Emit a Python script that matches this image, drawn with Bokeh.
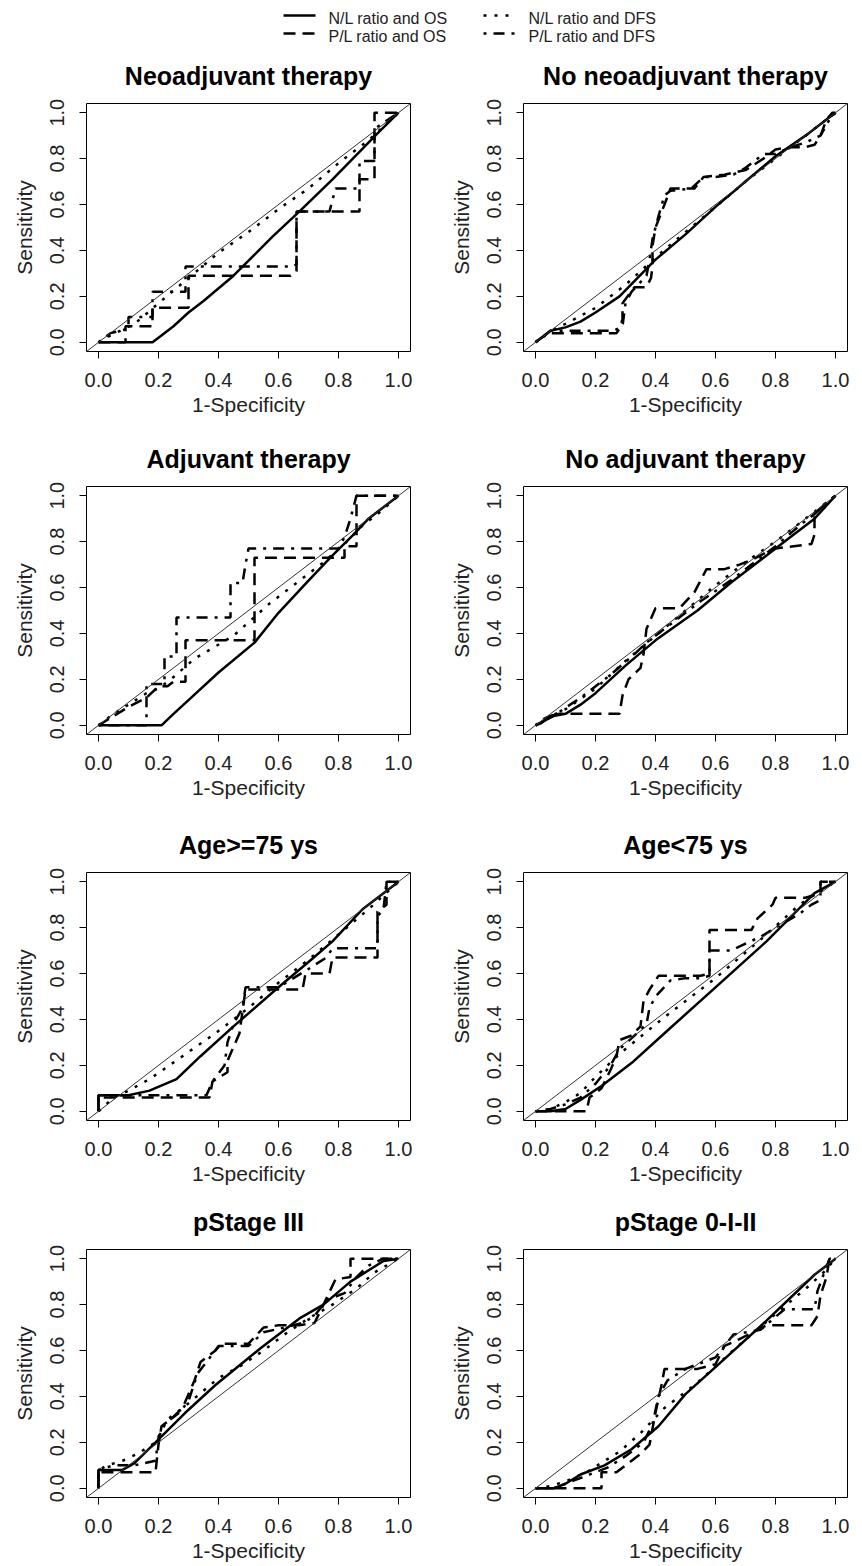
from bokeh.plotting import figure
from bokeh.models import Range1d, FixedTicker, PrintfTickFormatter, Slope
from bokeh.layouts import column, row
from bokeh.embed import file_html
from bokeh.resources import INLINE
from bokeh.core.properties import value

# ---------------- data ----------------
TICKS = [0.0, 0.2, 0.4, 0.6, 0.8, 1.0]
SERIES = ["N/L ratio and OS", "P/L ratio and OS", "N/L ratio and DFS", "P/L ratio and DFS"]
TITLES = ["Neoadjuvant therapy", "No neoadjuvant therapy", "Adjuvant therapy", "No adjuvant therapy",
          "Age>=75 ys", "Age<75 ys", "pStage III", "pStage 0-I-II"]
X_LABEL = "1-Specificity"
Y_LABEL = "Sensitivity"

neo_nlos_x = [0, 0.18, 0.20, 0.25, 0.30, 0.35, 0.45, 0.58, 0.67, 0.78, 0.90, 0.93, 1.0]
neo_nlos_y = [0, 0, 0.02, 0.07, 0.13, 0.18, 0.29, 0.46, 0.57, 0.71, 0.87, 0.91, 1.0]
neo_plos_x = [0, 0.09, 0.09, 0.18, 0.18, 0.30, 0.30, 0.64, 0.66, 0.66, 0.87, 0.87, 0.92, 0.92, 1.0]
neo_plos_y = [0, 0, 0.07, 0.07, 0.15, 0.15, 0.29, 0.29, 0.31, 0.57, 0.57, 0.71, 0.71, 1.0, 1.0]
neo_nldfs_x = [0, 0.04, 0.12, 0.20, 0.30, 0.40, 0.50, 0.60, 0.70, 0.80, 0.90, 1.0]
neo_nldfs_y = [0, 0.03, 0.08, 0.17, 0.28, 0.39, 0.48, 0.58, 0.67, 0.78, 0.88, 1.0]
neo_pldfs_x = [0, 0.04, 0.10, 0.10, 0.18, 0.18, 0.29, 0.29, 0.65, 0.66, 0.66, 0.77, 0.79, 0.87, 0.87, 0.92, 0.92, 1.0]
neo_pldfs_y = [0, 0.04, 0.06, 0.11, 0.11, 0.22, 0.22, 0.33, 0.33, 0.34, 0.57, 0.57, 0.67, 0.67, 0.79, 0.79, 0.93, 1.0]

noneo_nlos_x = [0, 0.03, 0.05, 0.10, 0.15, 0.20, 0.28, 0.40, 0.50, 0.60, 0.70, 0.80, 0.90, 0.97, 1.0]
noneo_nlos_y = [0, 0.03, 0.05, 0.065, 0.09, 0.13, 0.20, 0.36, 0.47, 0.59, 0.70, 0.81, 0.90, 0.97, 1.0]
noneo_plos_x = [0, 0.02, 0.05, 0.08, 0.27, 0.28, 0.29, 0.29, 0.33, 0.37, 0.385, 0.39, 0.39, 0.40, 0.43, 0.45,
                0.53, 0.56, 0.63, 0.70, 0.76, 0.80, 0.85, 0.90, 0.93, 0.95, 0.97, 0.99, 1.0]
noneo_plos_y = [0, 0.02, 0.04, 0.04, 0.04, 0.06, 0.10, 0.17, 0.24, 0.24, 0.28, 0.33, 0.42, 0.50, 0.60, 0.67,
                0.67, 0.72, 0.73, 0.75, 0.80, 0.84, 0.85, 0.85, 0.86, 0.90, 0.97, 1.0, 1.0]
noneo_nldfs_x = [0, 0.05, 0.10, 0.20, 0.30, 0.40, 0.50, 0.60, 0.70, 0.80, 0.90, 1.0]
noneo_nldfs_y = [0, 0.05, 0.08, 0.15, 0.25, 0.37, 0.48, 0.59, 0.70, 0.80, 0.90, 1.0]
noneo_pldfs_x = [0, 0.03, 0.05, 0.08, 0.26, 0.29, 0.30, 0.32, 0.37, 0.38, 0.39, 0.41, 0.43, 0.45, 0.52, 0.56,
                 0.60, 0.66, 0.70, 0.76, 0.80, 0.85, 0.90, 0.95, 0.98, 1.0]
noneo_pldfs_y = [0, 0.03, 0.05, 0.05, 0.05, 0.07, 0.17, 0.22, 0.29, 0.36, 0.45, 0.55, 0.64, 0.66, 0.67, 0.72,
                 0.72, 0.73, 0.76, 0.82, 0.82, 0.85, 0.87, 0.90, 0.97, 1.0]

adj_nlos_x = [0, 0.21, 0.25, 0.30, 0.40, 0.52, 0.60, 0.70, 0.78, 0.85, 0.90, 1.0]
adj_nlos_y = [0, 0, 0.05, 0.11, 0.23, 0.36, 0.49, 0.63, 0.74, 0.83, 0.90, 1.0]
adj_plos_x = [0, 0.05, 0.10, 0.16, 0.20, 0.23, 0.25, 0.27, 0.29, 0.29, 0.52, 0.52, 0.82, 0.82, 0.86, 0.86, 1.0]
adj_plos_y = [0, 0.04, 0.08, 0.12, 0.17, 0.17, 0.19, 0.19, 0.19, 0.37, 0.37, 0.73, 0.73, 0.78, 0.78, 1.0, 1.0]
adj_nldfs_x = [0, 0.05, 0.10, 0.16, 0.20, 0.25, 0.32, 0.45, 0.57, 0.67, 0.75, 0.82, 0.88, 0.93, 1.0]
adj_nldfs_y = [0, 0.05, 0.09, 0.14, 0.16, 0.21, 0.29, 0.39, 0.53, 0.63, 0.71, 0.79, 0.87, 0.92, 1.0]
adj_pldfs_x = [0, 0.16, 0.16, 0.22, 0.22, 0.26, 0.26, 0.44, 0.44, 0.48, 0.49, 0.50, 0.80, 0.82, 0.84, 0.86, 1.0]
adj_pldfs_y = [0, 0, 0.18, 0.18, 0.30, 0.30, 0.47, 0.47, 0.62, 0.62, 0.70, 0.77, 0.77, 0.82, 0.90, 1.0, 1.0]

noadj_nlos_x = [0, 0.03, 0.06, 0.10, 0.15, 0.20, 0.30, 0.40, 0.54, 0.65, 0.77, 0.85, 0.93, 1.0]
noadj_nlos_y = [0, 0.02, 0.04, 0.05, 0.09, 0.14, 0.26, 0.37, 0.50, 0.62, 0.74, 0.82, 0.90, 1.0]
noadj_plos_x = [0, 0.02, 0.05, 0.08, 0.28, 0.29, 0.31, 0.35, 0.36, 0.37, 0.40, 0.48, 0.53, 0.57, 0.63, 0.68,
                0.72, 0.78, 0.80, 0.92, 0.93, 0.93, 0.97, 1.0]
noadj_plos_y = [0, 0.01, 0.04, 0.05, 0.05, 0.13, 0.20, 0.25, 0.31, 0.42, 0.51, 0.51, 0.58, 0.68, 0.68, 0.70,
                0.72, 0.76, 0.77, 0.79, 0.83, 0.92, 0.97, 1.0]
noadj_nldfs_x = [0, 0.05, 0.10, 0.20, 0.30, 0.40, 0.50, 0.60, 0.70, 0.80, 0.90, 1.0]
noadj_nldfs_y = [0, 0.04, 0.07, 0.16, 0.28, 0.39, 0.50, 0.61, 0.71, 0.80, 0.90, 1.0]
noadj_pldfs_x = [0, 0.03, 0.07, 0.15, 0.25, 0.33, 0.37, 0.45, 0.55, 0.65, 0.72, 0.80, 0.88, 0.93, 0.97, 1.0]
noadj_pldfs_y = [0, 0.03, 0.05, 0.12, 0.22, 0.31, 0.36, 0.44, 0.54, 0.63, 0.70, 0.78, 0.87, 0.92, 0.97, 1.0]

old_nlos_x = [0, 0, 0.06, 0.10, 0.17, 0.26, 0.34, 0.45, 0.60, 0.70, 0.78, 0.88, 0.95, 1.0]
old_nlos_y = [0, 0.07, 0.07, 0.07, 0.09, 0.14, 0.24, 0.37, 0.54, 0.65, 0.74, 0.88, 0.95, 1.0]
old_plos_x = [0, 0, 0.09, 0.37, 0.38, 0.43, 0.43, 0.47, 0.49, 0.52, 0.68, 0.69, 0.77, 0.78, 0.93, 0.93, 0.96, 0.96, 1.0]
old_plos_y = [0, 0.06, 0.06, 0.06, 0.13, 0.17, 0.22, 0.34, 0.53, 0.53, 0.53, 0.60, 0.60, 0.67, 0.67, 0.87, 0.90, 1.0, 1.0]
old_nldfs_x = [0, 0.05, 0.10, 0.17, 0.28, 0.39, 0.50, 0.60, 0.70, 0.80, 0.90, 1.0]
old_nldfs_y = [0, 0.06, 0.09, 0.14, 0.24, 0.34, 0.45, 0.56, 0.66, 0.77, 0.88, 1.0]
old_pldfs_x = [0, 0, 0.06, 0.36, 0.38, 0.42, 0.43, 0.45, 0.48, 0.49, 0.60, 0.65, 0.70, 0.76, 0.78, 0.93, 0.93,
               0.95, 0.96, 1.0]
old_pldfs_y = [0, 0.07, 0.07, 0.07, 0.13, 0.20, 0.30, 0.38, 0.45, 0.54, 0.54, 0.58, 0.62, 0.67, 0.71, 0.71, 0.85,
               0.88, 1.0, 1.0]

young_nlos_x = [0, 0.05, 0.10, 0.15, 0.22, 0.32, 0.43, 0.60, 0.77, 0.93, 1.0]
young_nlos_y = [0, 0, 0.01, 0.05, 0.11, 0.21, 0.34, 0.54, 0.74, 0.95, 1.0]
young_plos_x = [0, 0.05, 0.10, 0.13, 0.17, 0.18, 0.22, 0.25, 0.27, 0.28, 0.32, 0.35, 0.36, 0.38, 0.41, 0.45,
                0.50, 0.55, 0.58, 0.58, 0.72, 0.74, 0.79, 0.80, 0.85, 0.90, 0.95, 0.95, 1.0]
young_plos_y = [0, 0, 0, 0, 0, 0.06, 0.10, 0.18, 0.24, 0.31, 0.33, 0.37, 0.48, 0.53, 0.59, 0.59,
                0.59, 0.59, 0.60, 0.79, 0.79, 0.84, 0.90, 0.93, 0.93, 0.93, 0.95, 1.0, 1.0]
young_nldfs_x = [0, 0.05, 0.10, 0.15, 0.20, 0.28, 0.43, 0.60, 0.77, 0.88, 0.95, 1.0]
young_nldfs_y = [0, 0.01, 0.04, 0.08, 0.15, 0.25, 0.41, 0.58, 0.77, 0.90, 0.96, 1.0]
young_pldfs_x = [0, 0.05, 0.10, 0.15, 0.20, 0.25, 0.28, 0.33, 0.37, 0.38, 0.40, 0.45, 0.50, 0.55, 0.58, 0.58,
                 0.65, 0.70, 0.75, 0.80, 0.88, 0.92, 0.95, 0.95, 1.0]
young_pldfs_y = [0, 0.01, 0.03, 0.06, 0.12, 0.20, 0.27, 0.33, 0.38, 0.45, 0.50, 0.57, 0.58, 0.58, 0.59, 0.70,
                 0.70, 0.73, 0.76, 0.80, 0.86, 0.90, 0.92, 1.0, 1.0]

s3_nlos_x = [0, 0, 0.04, 0.08, 0.12, 0.19, 0.29, 0.39, 0.54, 0.67, 0.75, 0.84, 0.95, 1.0]
s3_nlos_y = [0, 0.08, 0.08, 0.08, 0.11, 0.20, 0.33, 0.45, 0.61, 0.74, 0.80, 0.90, 0.99, 1.0]
s3_plos_x = [0, 0, 0.05, 0.10, 0.19, 0.20, 0.21, 0.24, 0.28, 0.32, 0.34, 0.39, 0.41, 0.47, 0.50, 0.55,
             0.60, 0.67, 0.72, 0.75, 0.79, 0.84, 0.84, 1.0]
s3_plos_y = [0, 0.07, 0.07, 0.07, 0.07, 0.19, 0.27, 0.30, 0.35, 0.47, 0.55, 0.60, 0.63, 0.63, 0.63, 0.70,
             0.71, 0.71, 0.72, 0.80, 0.91, 0.92, 1.0, 1.0]
s3_nldfs_x = [0, 0, 0.03, 0.08, 0.13, 0.19, 0.23, 0.30, 0.40, 0.47, 0.55, 0.62, 0.70, 0.78, 0.86, 0.92, 1.0]
s3_nldfs_y = [0, 0.08, 0.10, 0.12, 0.15, 0.20, 0.30, 0.37, 0.48, 0.53, 0.60, 0.67, 0.74, 0.80, 0.87, 0.94, 1.0]
s3_pldfs_x = [0, 0, 0.05, 0.12, 0.19, 0.20, 0.22, 0.27, 0.30, 0.33, 0.36, 0.40, 0.45, 0.50, 0.55, 0.62,
              0.68, 0.72, 0.76, 0.82, 0.86, 0.90, 0.95, 1.0]
s3_pldfs_y = [0, 0.08, 0.10, 0.10, 0.12, 0.22, 0.28, 0.33, 0.38, 0.50, 0.55, 0.62, 0.62, 0.62, 0.68, 0.70,
              0.72, 0.75, 0.82, 0.85, 0.92, 0.97, 1.0, 1.0]

s012_nlos_x = [0, 0.06, 0.10, 0.15, 0.23, 0.32, 0.41, 0.50, 0.61, 0.77, 0.93, 1.0]
s012_nlos_y = [0, 0, 0.02, 0.06, 0.10, 0.17, 0.27, 0.41, 0.54, 0.73, 0.93, 1.0]
s012_plos_x = [0, 0.05, 0.22, 0.22, 0.27, 0.30, 0.35, 0.38, 0.40, 0.42, 0.43, 0.54, 0.60, 0.63, 0.68, 0.77,
               0.83, 0.92, 0.94, 0.95, 0.97, 0.98, 1.0]
s012_plos_y = [0, 0, 0, 0.07, 0.07, 0.10, 0.15, 0.19, 0.33, 0.45, 0.52, 0.52, 0.54, 0.62, 0.65, 0.71,
               0.71, 0.71, 0.75, 0.84, 0.92, 1.0, 1.0]
s012_nldfs_x = [0, 0.05, 0.10, 0.17, 0.28, 0.35, 0.43, 0.54, 0.65, 0.72, 0.81, 0.91, 0.96, 1.0]
s012_nldfs_y = [0, 0.01, 0.03, 0.07, 0.16, 0.24, 0.35, 0.46, 0.59, 0.67, 0.77, 0.88, 0.94, 1.0]
s012_pldfs_x = [0, 0.06, 0.10, 0.16, 0.24, 0.30, 0.36, 0.39, 0.41, 0.44, 0.50, 0.56, 0.60, 0.63, 0.66, 0.75,
                0.83, 0.85, 0.93, 0.94, 0.96, 0.98, 1.0]
s012_pldfs_y = [0, 0, 0.02, 0.05, 0.09, 0.14, 0.20, 0.28, 0.40, 0.47, 0.52, 0.55, 0.57, 0.62, 0.67, 0.69,
                0.78, 0.78, 0.78, 0.86, 0.93, 1.0, 1.0]

PANEL_CURVES = [
    [(neo_nlos_x, neo_nlos_y), (neo_plos_x, neo_plos_y), (neo_nldfs_x, neo_nldfs_y), (neo_pldfs_x, neo_pldfs_y)],
    [(noneo_nlos_x, noneo_nlos_y), (noneo_plos_x, noneo_plos_y), (noneo_nldfs_x, noneo_nldfs_y), (noneo_pldfs_x, noneo_pldfs_y)],
    [(adj_nlos_x, adj_nlos_y), (adj_plos_x, adj_plos_y), (adj_nldfs_x, adj_nldfs_y), (adj_pldfs_x, adj_pldfs_y)],
    [(noadj_nlos_x, noadj_nlos_y), (noadj_plos_x, noadj_plos_y), (noadj_nldfs_x, noadj_nldfs_y), (noadj_pldfs_x, noadj_pldfs_y)],
    [(old_nlos_x, old_nlos_y), (old_plos_x, old_plos_y), (old_nldfs_x, old_nldfs_y), (old_pldfs_x, old_pldfs_y)],
    [(young_nlos_x, young_nlos_y), (young_plos_x, young_plos_y), (young_nldfs_x, young_nldfs_y), (young_pldfs_x, young_pldfs_y)],
    [(s3_nlos_x, s3_nlos_y), (s3_plos_x, s3_plos_y), (s3_nldfs_x, s3_nldfs_y), (s3_pldfs_x, s3_pldfs_y)],
    [(s012_nlos_x, s012_nlos_y), (s012_plos_x, s012_plos_y), (s012_nldfs_x, s012_nldfs_y), (s012_pldfs_x, s012_pldfs_y)],
]

# ---------------- styles / layout ----------------
FONT = "Liberation Sans"
DASHES = ["solid", "12 7", "3 8", "3 7 11 7"]
LW = 2.5
FRAME_W, FRAME_H = 324, 248
COL_BORDERS = [(86, 21), (92, 5)]          # (left, right)
ROW_BORDERS = [(58, 68), (67, 68), (70, 68), (61, 68)]  # (top, bottom)


def make_panel(idx):
    r, c = divmod(idx, 2)
    bl, br = COL_BORDERS[c]
    bt, bb = ROW_BORDERS[r]
    p = figure(frame_width=FRAME_W, frame_height=FRAME_H,
               min_border_left=bl, min_border_right=br, min_border_top=bt, min_border_bottom=bb,
               x_range=Range1d(-0.04, 1.04), y_range=Range1d(-0.04, 1.04),
               output_backend="svg", toolbar_location=None, tools="")
    p.title.text = TITLES[idx]
    p.title.align = "center"
    p.title.text_font = FONT
    p.title.text_font_size = "25px"
    p.title.text_font_style = "bold"
    p.title.text_color = "black"
    p.title.standoff = 28
    p.xgrid.visible = False
    p.ygrid.visible = False
    p.outline_line_color = "black"
    p.outline_line_width = 1
    p.outline_line_alpha = 1
    p.background_fill_color = "white"
    p.border_fill_color = "white"
    for ax, lab in ((p.xaxis[0], X_LABEL), (p.yaxis[0], Y_LABEL)):
        ax.ticker = FixedTicker(ticks=TICKS)
        ax.formatter = PrintfTickFormatter(format="%.1f")
        ax.axis_line_color = None
        ax.major_tick_in = 0
        ax.major_tick_out = 7
        ax.major_tick_line_color = "black"
        ax.major_tick_line_width = 1
        ax.minor_tick_line_color = None
        ax.major_label_text_font = FONT
        ax.major_label_text_font_size = "20px"
        ax.major_label_text_color = "#222222"
        ax.axis_label = lab
        ax.axis_label_text_font = FONT
        ax.axis_label_text_font_size = "21px"
        ax.axis_label_text_font_style = "normal"
        ax.axis_label_text_color = "#222222"
    p.xaxis[0].major_label_standoff = 14
    p.xaxis[0].axis_label_standoff = 3
    p.yaxis[0].major_label_standoff = 15
    p.yaxis[0].axis_label_standoff = 12
    p.yaxis[0].major_label_orientation = "vertical"
    p.add_layout(Slope(gradient=1, y_intercept=0, line_color="#333333", line_width=1))
    for (xs, ys), dash in zip(PANEL_CURVES[idx], DASHES):
        p.line(xs, ys, line_color="black", line_width=LW, line_dash=dash)
    return p


# legend strip
LEG_W, LEG_H = 852, 45
leg = figure(width=LEG_W, height=LEG_H, x_range=Range1d(0, LEG_W), y_range=Range1d(LEG_H, 0),
             output_backend="svg", toolbar_location=None, tools="",
             min_border=0, x_axis_location=None, y_axis_location=None)
leg.xgrid.visible = False
leg.ygrid.visible = False
leg.outline_line_color = None
leg.background_fill_color = "white"
leg.border_fill_color = "white"
LEG_LINE_X = [(283, 315), (283, 315), (483, 515), (483, 515)]
LEG_TEXT_X = [328, 328, 528, 528]
LEG_ROW_Y = [18, 36, 18, 36]
for i, lab in enumerate(SERIES):
    x0, x1 = LEG_LINE_X[i]
    yy = LEG_ROW_Y[i]
    leg.line([x0, x1], [yy - 3, yy - 3], line_color="black", line_width=LW, line_dash=DASHES[i])
    leg.text(x=[LEG_TEXT_X[i]], y=[yy], text=[lab], text_font=value(FONT), text_font_size="16px",
             text_baseline="middle", text_align="left", text_color="#222222")

panels = [make_panel(i) for i in range(8)]
layout = column(leg, row(panels[0], panels[1]), row(panels[2], panels[3]),
                row(panels[4], panels[5]), row(panels[6], panels[7]))

open("out.html", "w").write(file_html(layout, INLINE))
